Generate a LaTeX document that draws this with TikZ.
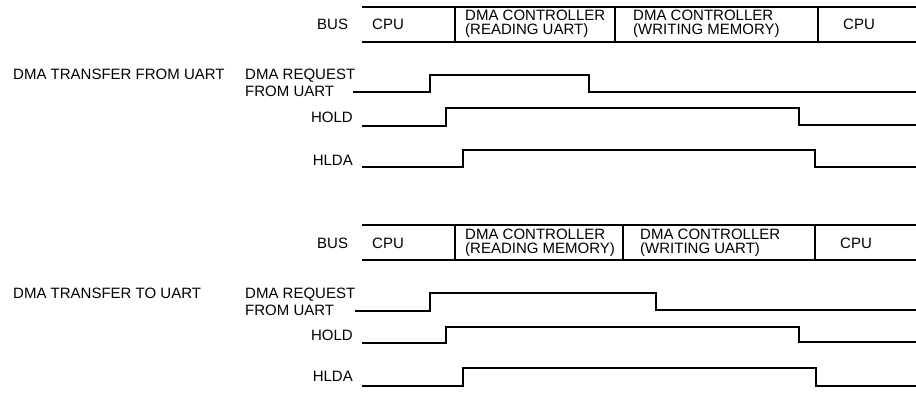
\documentclass[tikz,border=0pt]{standalone}
\usepackage{fontspec}
\setmainfont{Liberation Sans}
\begin{document}
\begin{tikzpicture}[x=1pt,y=-1pt,
  lbl/.style={inner sep=0pt, font=\fontsize{15}{14}\selectfont, anchor=base west},
  lblr/.style={lbl, anchor=base east},
  wave/.style={line width=1.9pt, line join=miter, line cap=butt},
  busline/.style={line width=1.9pt}]
\useasboundingbox (0,0) rectangle (916,393);

% ---------- upper diagram ----------
\draw[busline] (362,7) -- (916,7) (362,42) -- (916,42);
\draw[busline] (455,7) -- (455,42) (615,7) -- (615,42) (818,7) -- (818,42);
\node[lbl] (bus1) at (317,30) {BUS};
\node[lbl] (cpu1a) at (372,30) {CPU};
\node[lbl] (dma1a) at (465,21) {DMA CONTROLLER};
\node[lbl] (dma1b) at (465,35) {(READING UART)};
\node[lbl] (dma1c) at (633,21) {DMA CONTROLLER};
\node[lbl] (dma1d) at (633,35) {(WRITING MEMORY)};
\node[lbl] (cpu1b) at (843,30) {CPU};

\node[lbl] (title1) at (13,80) {DMA TRANSFER FROM UART};
\node[lbl] (req1a) at (245,80) {DMA REQUEST};
\node[lbl] (req1b) at (245,97) {FROM UART};
\node[lblr] (hold1) at (353,123) {HOLD};
\node[lblr] (hlda1) at (353,166) {HLDA};

\draw[wave] (353,92) -- (430,92) -- (430,75) -- (589,75) -- (589,92) -- (916,92);
\draw[wave] (362,126) -- (446,126) -- (446,108) -- (799,108) -- (799,125) -- (916,125);
\draw[wave] (362,167) -- (463,167) -- (463,150) -- (815,150) -- (815,167) -- (916,167);

% ---------- lower diagram ----------
\draw[busline] (362,225) -- (916,225) (362,260) -- (916,260);
\draw[busline] (455,225) -- (455,260) (623,225) -- (623,260) (815,225) -- (815,260);
\node[lbl] (bus2) at (317,248) {BUS};
\node[lbl] (cpu2a) at (372,248) {CPU};
\node[lbl] (dma2a) at (465,239) {DMA CONTROLLER};
\node[lbl] (dma2b) at (465,253) {(READING MEMORY)};
\node[lbl] (dma2c) at (640,239) {DMA CONTROLLER};
\node[lbl] (dma2d) at (640,253) {(WRITING UART)};
\node[lbl] (cpu2b) at (840,248) {CPU};

\node[lbl] (title2) at (13,298) {DMA TRANSFER TO UART};
\node[lbl] (req2a) at (245,298) {DMA REQUEST};
\node[lbl] (req2b) at (245,315) {FROM UART};
\node[lblr] (hold2) at (353,340) {HOLD};
\node[lblr] (hlda2) at (353,381) {HLDA};

\draw[wave] (355,311) -- (430,311) -- (430,293) -- (656,293) -- (656,310) -- (916,310);
\draw[wave] (362,343) -- (446,343) -- (446,327) -- (799,327) -- (799,342) -- (916,342);
\draw[wave] (362,386) -- (463,386) -- (463,368) -- (816,368) -- (816,386) -- (916,386);
\end{tikzpicture}
\end{document}
